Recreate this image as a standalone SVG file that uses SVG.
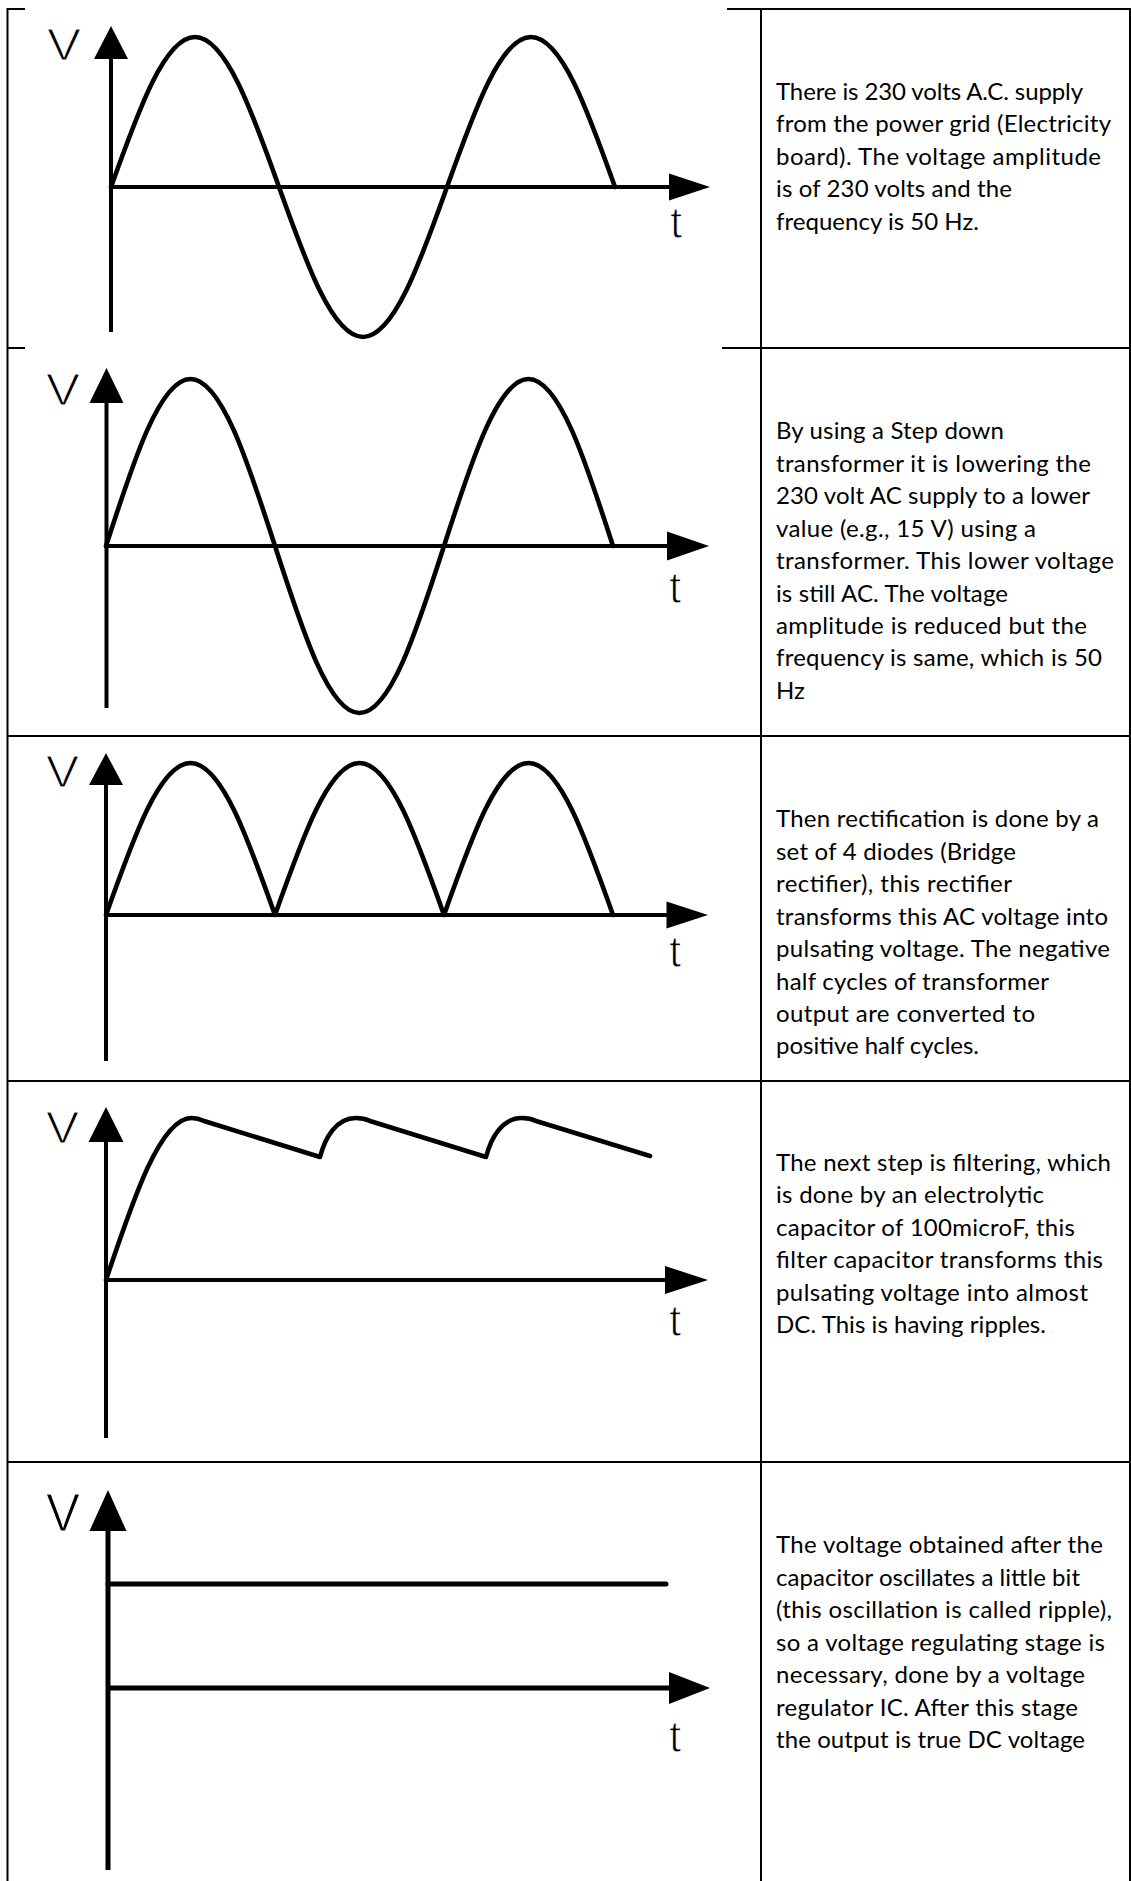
<svg xmlns="http://www.w3.org/2000/svg" width="1131" height="1881" viewBox="0 0 1131 1881">
<style>
.grid{stroke:#000;stroke-width:2;fill:none}
.axis{stroke:#000;stroke-width:4;fill:none}
.curve{stroke:#000;stroke-width:4.6;fill:none;stroke-linecap:round;stroke-linejoin:round}
.head{fill:#000}
.lbl{font-family:"Liberation Sans",Arial,sans-serif;font-size:44px;fill:#000;stroke:#fff;stroke-width:1.1px}
.desc{font-family:Lato,"Open Sans",sans-serif;font-size:24px;fill:#000}
</style>
<rect width="1131" height="1881" fill="#fff"/>
<g id="table-grid" class="grid">
<line x1="7.5" y1="8" x2="7.5" y2="1881"/>
<line x1="761" y1="8" x2="761" y2="1881"/>
<line x1="1130" y1="8" x2="1130" y2="1881"/>
<line x1="7" y1="9" x2="25" y2="9"/>
<line x1="727" y1="9" x2="1131" y2="9"/>
<line x1="7" y1="348" x2="25" y2="348"/>
<line x1="722" y1="348" x2="1131" y2="348"/>
<line x1="7" y1="736" x2="1131" y2="736"/>
<line x1="7" y1="1081" x2="1131" y2="1081"/>
<line x1="7" y1="1462" x2="1131" y2="1462"/>
</g>
<g id="graph-ac-supply">
<line class="axis" x1="111" y1="58" x2="111" y2="332"/>
<line class="axis" x1="111" y1="187" x2="671" y2="187"/>
<polygon class="head" points="111,26 128,59 94,59"/>
<polygon class="head" points="710,187 669,173.5 669,200.5"/>
<text class="lbl" x="47" y="60" textLength="34" lengthAdjust="spacingAndGlyphs">V</text>
<text class="lbl" x="670" y="238">t</text>
<path class="curve" d="M111,187 C138.4,110.1 164.6,37 195,37 C225.4,37 251.6,110.1 279,187 C306.4,263.9 332.6,337 363,337 C393.4,337 419.6,263.9 447,187 C474.4,110.1 500.6,37 531,37 C561.4,37 587.6,110.1 615,187"/>
</g>
<g id="text-ac-supply" class="desc">
<text x="776" y="100" textLength="307">There is 230 volts A.C. supply</text>
<text x="776" y="132.4" textLength="335">from the power grid (Electricity</text>
<text x="776" y="164.8" textLength="325">board). The voltage amplitude</text>
<text x="776" y="197.2" textLength="236">is of 230 volts and the</text>
<text x="776" y="229.6" textLength="203">frequency is 50 Hz.</text>
</g>
<g id="graph-step-down">
<line class="axis" x1="106.5" y1="402" x2="106.5" y2="708"/>
<line class="axis" x1="106.5" y1="546" x2="668" y2="546"/>
<polygon class="head" points="106.5,368 123.5,403 89.5,403"/>
<polygon class="head" points="709,546 667,531.5 667,560.5"/>
<text class="lbl" x="46" y="405" textLength="34" lengthAdjust="spacingAndGlyphs">V</text>
<text class="lbl" x="669" y="603">t</text>
<path class="curve" d="M106,546 C133.6,460.4 159.9,379 190.5,379 C221.1,379 247.4,460.4 275,546 C302.6,631.6 328.9,713 359.5,713 C390.1,713 416.4,631.6 444,546 C471.6,460.4 497.9,379 528.5,379 C559.1,379 585.4,460.4 613,546"/>
</g>
<g id="text-step-down" class="desc">
<text x="776" y="439.3" textLength="228">By using a Step down</text>
<text x="776" y="471.75" textLength="315">transformer it is lowering the</text>
<text x="776" y="504.2" textLength="314">230 volt AC supply to a lower</text>
<text x="776" y="536.65" textLength="260">value (e.g., 15 V) using a</text>
<text x="776" y="569.1" textLength="338">transformer. This lower voltage</text>
<text x="776" y="601.55" textLength="232">is still AC. The voltage</text>
<text x="776" y="634" textLength="311">amplitude is reduced but the</text>
<text x="776" y="666.45" textLength="326">frequency is same, which is 50</text>
<text x="776" y="698.9">Hz</text>
</g>
<g id="graph-rectifier">
<line class="axis" x1="106" y1="784" x2="106" y2="1061"/>
<line class="axis" x1="106" y1="915" x2="668" y2="915"/>
<polygon class="head" points="106,753 123,785 89,785"/>
<polygon class="head" points="708,915 666.5,901.5 666.5,928.5"/>
<text class="lbl" x="46" y="787" textLength="33" lengthAdjust="spacingAndGlyphs">V</text>
<text class="lbl" x="669" y="967">t</text>
<path class="curve" d="M106,915 C133.6,837.1 159.9,763 190.5,763 C221.1,763 247.4,837.1 275,915 C302.6,837.1 328.9,763 359.5,763 C390.1,763 416.4,837.1 444,915 C471.6,837.1 497.9,763 528.5,763 C559.1,763 585.4,837.1 613,915"/>
</g>
<g id="text-rectifier" class="desc">
<text x="776" y="827.3" textLength="323">Then rectification is done by a</text>
<text x="776" y="859.75" textLength="240">set of 4 diodes (Bridge</text>
<text x="776" y="892.2" textLength="236">rectifier), this rectifier</text>
<text x="776" y="924.65" textLength="332">transforms this AC voltage into</text>
<text x="776" y="957.1" textLength="334">pulsating voltage. The negative</text>
<text x="776" y="989.55" textLength="273">half cycles of transformer</text>
<text x="776" y="1022" textLength="259">output are converted to</text>
<text x="776" y="1054.45" textLength="203">positive half cycles.</text>
</g>
<g id="graph-filter">
<line class="axis" x1="106" y1="1141" x2="106" y2="1438"/>
<line class="axis" x1="106" y1="1280" x2="667" y2="1280"/>
<polygon class="head" points="106,1107 123.5,1142 88.5,1142"/>
<polygon class="head" points="708,1280 665,1266 665,1294"/>
<text class="lbl" x="46" y="1143" textLength="33" lengthAdjust="spacingAndGlyphs">V</text>
<text class="lbl" x="669" y="1336">t</text>
<path class="curve" d="M106,1280 C133.9,1196.9 160.6,1118 191.5,1118 C197,1118 200,1119 204,1121 L320,1157 C325,1138 336,1118 356,1118 C362,1118 366,1119 370,1121 L486,1157 C491,1138 502,1118 522,1118 C528,1118 532,1119 536,1121 L650,1156"/>
</g>
<g id="text-filter" class="desc">
<text x="776" y="1171" textLength="335">The next step is filtering, which</text>
<text x="776" y="1203.45" textLength="268">is done by an electrolytic</text>
<text x="776" y="1235.9" textLength="299">capacitor of 100microF, this</text>
<text x="776" y="1268.35" textLength="327">filter capacitor transforms this</text>
<text x="776" y="1300.8" textLength="312">pulsating voltage into almost</text>
<text x="776" y="1333.25" textLength="270">DC. This is having ripples.</text>
</g>
<g id="graph-regulator">
<line class="axis" x1="108" y1="1530" x2="108" y2="1870" style="stroke-width:5"/>
<line class="axis" x1="108" y1="1688" x2="670" y2="1688" style="stroke-width:5"/>
<line class="curve" x1="108" y1="1584" x2="666" y2="1584" style="stroke-width:5"/>
<polygon class="head" points="108,1490 126.5,1531 89.5,1531"/>
<polygon class="head" points="710,1688 669,1672 669,1704"/>
<text class="lbl" x="46" y="1531" textLength="34" lengthAdjust="spacingAndGlyphs" style="font-size:53px">V</text>
<text class="lbl" x="669" y="1752">t</text>
</g>
<g id="text-regulator" class="desc">
<text x="776" y="1553.3" textLength="327">The voltage obtained after the</text>
<text x="776" y="1585.75" textLength="304">capacitor oscillates a little bit</text>
<text x="776" y="1618.2" textLength="336">(this oscillation is called ripple),</text>
<text x="776" y="1650.65" textLength="329">so a voltage regulating stage is</text>
<text x="776" y="1683.1" textLength="309">necessary, done by a voltage</text>
<text x="776" y="1715.55" textLength="302">regulator IC. After this stage</text>
<text x="776" y="1748" textLength="309">the output is true DC voltage</text>
</g>
</svg>
